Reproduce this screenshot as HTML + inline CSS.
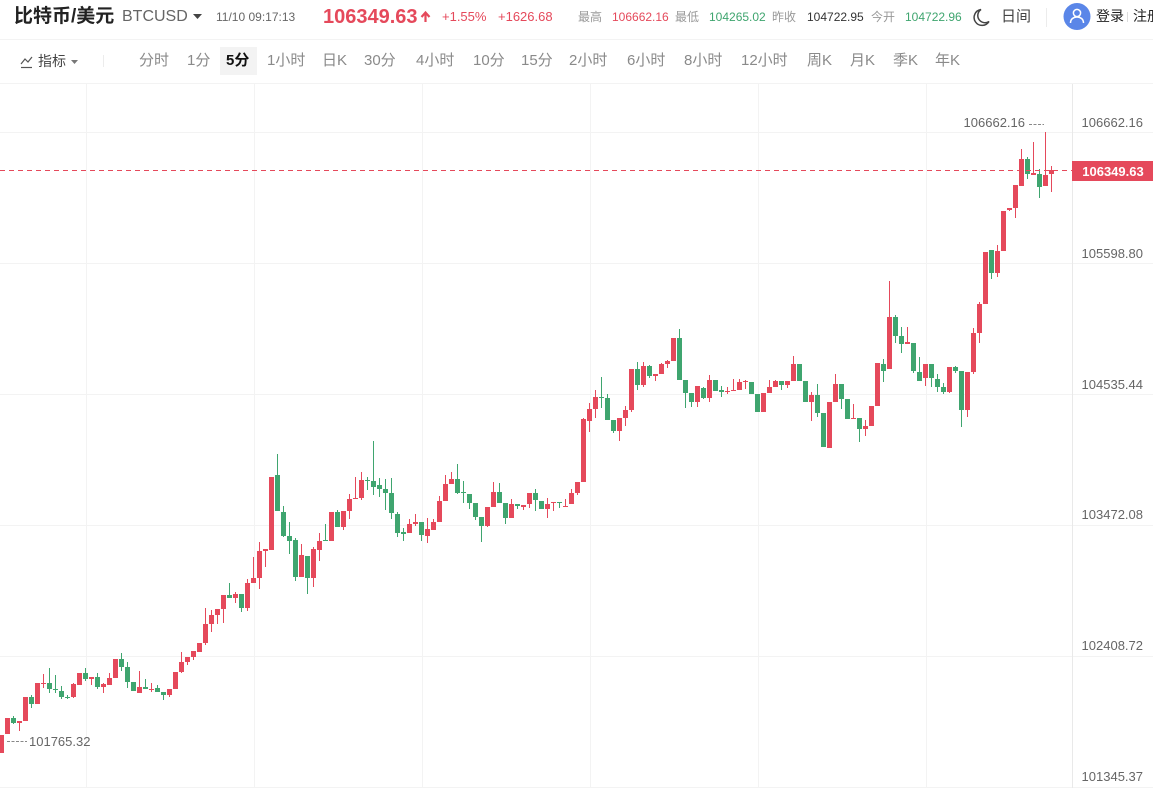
<!DOCTYPE html>
<html><head><meta charset="utf-8"><style>
html,body{margin:0;padding:0;background:#fff;}
body{width:1153px;height:788px;overflow:hidden;position:relative;font-family:"Liberation Sans","Noto Sans CJK SC",sans-serif;}
.t{position:absolute;white-space:nowrap;line-height:1;}
.g{color:#999;font-size:12px;}
.n{font-size:12px;}
.tb{position:absolute;top:53px;font-size:15px;color:#8a8a8a;white-space:nowrap;line-height:16px;}
</style></head><body>
<svg width="1153" height="788" style="position:absolute;left:0;top:0" xmlns="http://www.w3.org/2000/svg">
<g stroke="#f3f3f3" stroke-width="1">
<path d="M0 39.5H1153M0 83.5H1153"/>
<path d="M0 132.5H1153M0 263.5H1153M0 394.5H1153M0 525.5H1153M0 656.5H1153M0 787.5H1153"/>
<path d="M86.5 84V788M254.5 84V788M422.5 84V788M590.5 84V788M758.5 84V788M926.5 84V788"/>
</g>
<path d="M1072.5 84V788" stroke="#e9e9e9"/>
<path d="M103.5 55V67" stroke="#ececec"/>
<path d="M1046.5 8V27" stroke="#ececec"/>
<path d="M1127.5 12V22" stroke="#dddddd"/>
<clipPath id="c"><rect x="0" y="84" width="1072" height="704"/></clipPath>
<g clip-path="url(#c)">
<path fill="#e5495b" d="M-1 735h5V753h-5zM5 718h5V734h-5zM19 721h1V731h-1zM17 721h5V723h-5zM23 697h5V721h-5zM35 683h5V704h-5zM43 674h1V688h-1zM41 683h5V684h-5zM73 683h1V698h-1zM71 684h5V697h-5zM77 673h5V685h-5zM91 677h1V685h-1zM89 677h5V679h-5zM103 683h1V693h-1zM101 684h5V687h-5zM109 673h1V685h-1zM107 678h5V685h-5zM113 659h5V678h-5zM139 671h1V693h-1zM137 687h5V693h-5zM151 683h1V692h-1zM149 689h5V690h-5zM169 689h1V697h-1zM167 689h5V695h-5zM173 672h5V689h-5zM181 652h1V673h-1zM179 662h5V672h-5zM187 657h1V665h-1zM185 657h5V662h-5zM193 651h1V660h-1zM191 651h5V657h-5zM197 643h5V652h-5zM205 608h1V645h-1zM203 624h5V643h-5zM211 610h1V632h-1zM209 615h5V624h-5zM217 609h1V624h-1zM215 609h5V615h-5zM223 595h1V623h-1zM221 595h5V609h-5zM235 592h1V603h-1zM233 594h5V598h-5zM247 579h1V611h-1zM245 583h5V608h-5zM253 557h1V583h-1zM251 578h5V583h-5zM259 542h1V589h-1zM257 551h5V578h-5zM265 549h1V567h-1zM263 549h5V551h-5zM269 477h5V550h-5zM301 544h1V577h-1zM299 555h5V577h-5zM313 547h1V587h-1zM311 549h5V578h-5zM319 533h1V561h-1zM317 541h5V550h-5zM329 512h5V541h-5zM343 511h1V530h-1zM341 511h5V527h-5zM349 494h1V519h-1zM347 499h5V511h-5zM355 477h1V499h-1zM353 498h5V499h-5zM361 472h1V500h-1zM359 480h5V498h-5zM409 519h1V533h-1zM407 524h5V533h-5zM415 514h1V526h-1zM413 522h5V524h-5zM427 518h1V543h-1zM425 529h5V536h-5zM433 519h1V530h-1zM431 522h5V530h-5zM439 496h1V522h-1zM437 501h5V522h-5zM445 475h1V501h-1zM443 484h5V501h-5zM451 472h1V484h-1zM449 479h5V484h-5zM487 507h1V527h-1zM485 507h5V526h-5zM493 482h1V507h-1zM491 492h5V507h-5zM511 499h1V518h-1zM509 504h5V518h-5zM523 505h1V510h-1zM521 505h5V507h-5zM529 493h1V508h-1zM527 493h5V504h-5zM547 498h1V518h-1zM545 504h5V509h-5zM553 502h1V511h-1zM551 502h5V503h-5zM565 499h1V507h-1zM563 506h5V507h-5zM571 489h1V504h-1zM569 493h5V504h-5zM577 482h1V495h-1zM575 482h5V493h-5zM583 418h1V482h-1zM581 419h5V482h-5zM589 403h1V432h-1zM587 409h5V421h-5zM595 390h1V418h-1zM593 397h5V409h-5zM619 418h1V441h-1zM617 418h5V431h-5zM625 406h1V426h-1zM623 410h5V418h-5zM631 369h1V412h-1zM629 369h5V410h-5zM643 362h1V387h-1zM641 366h5V385h-5zM655 374h1V381h-1zM653 374h5V376h-5zM661 363h1V374h-1zM659 364h5V374h-5zM667 360h1V368h-1zM665 361h5V364h-5zM671 338h5V361h-5zM697 386h1V407h-1zM695 386h5V402h-5zM709 375h1V402h-1zM707 380h5V398h-5zM727 387h1V394h-1zM725 391h5V392h-5zM733 379h1V391h-1zM731 390h5V391h-5zM739 379h1V390h-1zM737 382h5V390h-5zM745 380h1V389h-1zM743 381h5V382h-5zM761 393h5V412h-5zM769 380h1V393h-1zM767 387h5V393h-5zM775 380h1V387h-1zM773 381h5V387h-5zM787 381h1V388h-1zM785 381h5V385h-5zM793 356h1V381h-1zM791 364h5V381h-5zM811 392h1V421h-1zM809 395h5V402h-5zM827 402h5V448h-5zM835 374h1V402h-1zM833 384h5V402h-5zM853 404h1V419h-1zM851 418h5V419h-5zM865 420h1V436h-1zM863 426h5V429h-5zM869 406h5V426h-5zM875 363h5V406h-5zM889 281h1V369h-1zM887 317h5V369h-5zM907 327h1V344h-1zM905 342h5V344h-5zM925 364h1V386h-1zM923 364h5V378h-5zM949 367h1V393h-1zM947 367h5V392h-5zM967 372h1V417h-1zM965 372h5V410h-5zM973 328h1V374h-1zM971 333h5V372h-5zM979 302h1V343h-1zM977 304h5V333h-5zM983 252h5V304h-5zM997 245h1V277h-1zM995 251h5V273h-5zM1001 211h5V251h-5zM1009 208h1V211h-1zM1007 208h5V210h-5zM1015 185h1V218h-1zM1013 185h5V208h-5zM1021 149h1V186h-1zM1019 159h5V186h-5zM1033 142h1V175h-1zM1031 173h5V175h-5zM1045 132h1V186h-1zM1043 175h5V186h-5zM1051 166h1V192h-1zM1049 170h5V174h-5z"/>
<path fill="#3fa56f" d="M13 716h1V724h-1zM11 718h5V723h-5zM31 695h1V708h-1zM29 697h5V704h-5zM49 668h1V693h-1zM47 683h5V689h-5zM55 675h1V693h-1zM53 689h5V690h-5zM61 686h1V699h-1zM59 691h5V697h-5zM67 695h1V699h-1zM65 697h5V698h-5zM85 668h1V681h-1zM83 673h5V679h-5zM97 673h1V689h-1zM95 677h5V687h-5zM121 653h1V671h-1zM119 659h5V667h-5zM127 662h1V688h-1zM125 667h5V682h-5zM131 682h5V691h-5zM145 679h1V689h-1zM143 687h5V689h-5zM157 685h1V692h-1zM155 688h5V692h-5zM163 692h1V700h-1zM161 692h5V695h-5zM229 583h1V598h-1zM227 595h5V598h-5zM241 594h1V612h-1zM239 594h5V608h-5zM277 454h1V511h-1zM275 475h5V511h-5zM283 506h1V537h-1zM281 512h5V536h-5zM289 522h1V554h-1zM287 536h5V541h-5zM295 538h1V581h-1zM293 540h5V577h-5zM307 556h1V594h-1zM305 556h5V578h-5zM325 524h1V541h-1zM323 540h5V541h-5zM337 510h1V527h-1zM335 512h5V527h-5zM367 477h1V490h-1zM365 480h5V481h-5zM373 441h1V495h-1zM371 481h5V487h-5zM379 478h1V497h-1zM377 485h5V489h-5zM385 479h1V510h-1zM383 489h5V493h-5zM391 478h1V519h-1zM389 493h5V513h-5zM397 512h1V537h-1zM395 514h5V533h-5zM403 528h1V541h-1zM401 532h5V534h-5zM421 522h1V541h-1zM419 522h5V535h-5zM457 464h1V494h-1zM455 479h5V493h-5zM463 481h1V503h-1zM461 492h5V493h-5zM469 494h1V509h-1zM467 494h5V503h-5zM475 503h1V520h-1zM473 503h5V517h-5zM481 517h1V542h-1zM479 517h5V526h-5zM499 483h1V503h-1zM497 492h5V503h-5zM505 503h1V524h-1zM503 503h5V518h-5zM517 504h1V509h-1zM515 504h5V506h-5zM535 489h1V511h-1zM533 493h5V500h-5zM539 501h5V509h-5zM559 502h1V508h-1zM557 502h5V503h-5zM601 377h1V408h-1zM599 397h5V398h-5zM607 394h1V420h-1zM605 398h5V420h-5zM613 420h1V433h-1zM611 420h5V431h-5zM637 362h1V390h-1zM635 369h5V385h-5zM649 365h1V378h-1zM647 366h5V376h-5zM679 329h1V380h-1zM677 338h5V380h-5zM685 380h1V408h-1zM683 380h5V393h-5zM691 393h1V407h-1zM689 393h5V402h-5zM703 387h1V399h-1zM701 388h5V398h-5zM713 380h5V391h-5zM721 386h1V397h-1zM719 390h5V392h-5zM749 382h5V394h-5zM755 394h5V412h-5zM781 381h1V390h-1zM779 381h5V385h-5zM797 364h5V381h-5zM803 381h5V402h-5zM817 384h1V417h-1zM815 395h5V413h-5zM821 413h5V447h-5zM841 384h1V409h-1zM839 384h5V399h-5zM845 399h5V419h-5zM859 418h1V442h-1zM857 418h5V429h-5zM883 359h1V382h-1zM881 364h5V371h-5zM895 315h1V343h-1zM893 317h5V336h-5zM901 327h1V353h-1zM899 336h5V344h-5zM913 343h1V373h-1zM911 343h5V371h-5zM919 357h1V381h-1zM917 372h5V381h-5zM931 364h1V387h-1zM929 364h5V378h-5zM937 374h1V392h-1zM935 379h5V387h-5zM943 383h1V394h-1zM941 387h5V392h-5zM955 366h1V373h-1zM953 367h5V371h-5zM961 371h1V427h-1zM959 371h5V410h-5zM991 250h1V279h-1zM989 250h5V273h-5zM1027 157h1V179h-1zM1025 159h5V174h-5zM1039 169h1V198h-1zM1037 174h5V187h-5z"/>
</g>
<path d="M0 170.5H1072" stroke="#e5495b" stroke-width="1" stroke-dasharray="5 4"/>
<path d="M1029 124.5H1044" stroke="#888" stroke-dasharray="3 1.5"/>
<path d="M7 741.5H27" stroke="#888" stroke-dasharray="3 1.5"/>
<g font-family="Liberation Sans, sans-serif" font-size="13" fill="#666">
<text x="1025" y="127" text-anchor="end">106662.16</text>
<text x="29" y="746">101765.32</text>
<g text-anchor="end">
<text x="1143" y="127">106662.16</text>
<text x="1143" y="258">105598.80</text>
<text x="1143" y="389">104535.44</text>
<text x="1143" y="519">103472.08</text>
<text x="1143" y="650">102408.72</text>
<text x="1143" y="781">101345.37</text>
</g>
</g>
<rect x="1072" y="161" width="81" height="20" fill="#e5495b"/>
<text x="1113" y="176" text-anchor="middle" font-family="Liberation Sans, sans-serif" font-size="13" font-weight="bold" fill="#fff">106349.63</text>
<path d="M193 14h9l-4.5 5z" fill="#444"/>
<path d="M425.5 22V13M421.5 17l4-4.5 4 4.5" stroke="#e5495b" stroke-width="2.2" fill="none"/>
<path d="M981 9.5a8 8 0 1 0 8 12 7 7 0 0 1 -8 -12z" fill="none" stroke="#444" stroke-width="1.5"/>
<circle cx="1077" cy="16.5" r="13.5" fill="#5a86e8"/>
<circle cx="1077" cy="13" r="3.6" fill="none" stroke="#fff" stroke-width="1.5"/>
<path d="M1070.5 23c0-4 3-6 6.5-6s6.5 2 6.5 6" fill="none" stroke="#fff" stroke-width="1.5"/>
<path d="M21 64l4-5 3 3 4-5" fill="none" stroke="#555" stroke-width="1.2"/>
<path d="M21 67.5h11" stroke="#555" stroke-width="1.2"/>
<path d="M71 60h7l-3.5 4z" fill="#777"/>
<rect x="220" y="47" width="37" height="28" fill="#f3f3f3"/>
</svg>
<div class="t" style="left:14px;top:7px;font-size:19px;font-weight:bold;color:#222;">比特币/美元</div>
<div class="t" style="left:122px;top:9px;font-size:16px;color:#666;">BTCUSD</div>
<div class="t" style="left:216px;top:11px;font-size:12px;color:#666;">11/10 09:17:13</div>
<div class="t" style="left:323px;top:7px;font-size:20px;font-weight:bold;color:#e5495b;">106349.63</div>
<div class="t" style="left:442px;top:10px;font-size:13px;color:#e5495b;">+1.55%</div>
<div class="t" style="left:498px;top:10px;font-size:13px;color:#e5495b;">+1626.68</div>
<div class="t g" style="left:578px;top:11px;">最高</div>
<div class="t n" style="left:612px;top:11px;color:#e5495b;">106662.16</div>
<div class="t g" style="left:675px;top:11px;">最低</div>
<div class="t n" style="left:709px;top:11px;color:#3fa56f;">104265.02</div>
<div class="t g" style="left:772px;top:11px;">昨收</div>
<div class="t n" style="left:807px;top:11px;color:#333;">104722.95</div>
<div class="t g" style="left:871px;top:11px;">今开</div>
<div class="t n" style="left:905px;top:11px;color:#3fa56f;">104722.96</div>
<div class="t" style="left:1001px;top:9px;font-size:15px;color:#444;">日间</div>
<div class="t" style="left:1096px;top:9px;font-size:14px;color:#222;">登录</div>
<div class="t" style="left:1133px;top:9px;font-size:14px;color:#222;">注册</div>
<div class="tb" style="left:38px;color:#444;font-size:14px;">指标</div>
<div class="tb" style="left:139px;">分时</div>
<div class="tb" style="left:187px;">1分</div>
<div class="tb" style="left:226px;color:#111;font-weight:bold;">5分</div>
<div class="tb" style="left:267px;">1小时</div>
<div class="tb" style="left:322px;">日K</div>
<div class="tb" style="left:364px;">30分</div>
<div class="tb" style="left:416px;">4小时</div>
<div class="tb" style="left:473px;">10分</div>
<div class="tb" style="left:521px;">15分</div>
<div class="tb" style="left:569px;">2小时</div>
<div class="tb" style="left:627px;">6小时</div>
<div class="tb" style="left:684px;">8小时</div>
<div class="tb" style="left:741px;">12小时</div>
<div class="tb" style="left:807px;">周K</div>
<div class="tb" style="left:850px;">月K</div>
<div class="tb" style="left:893px;">季K</div>
<div class="tb" style="left:935px;">年K</div>
</body></html>
